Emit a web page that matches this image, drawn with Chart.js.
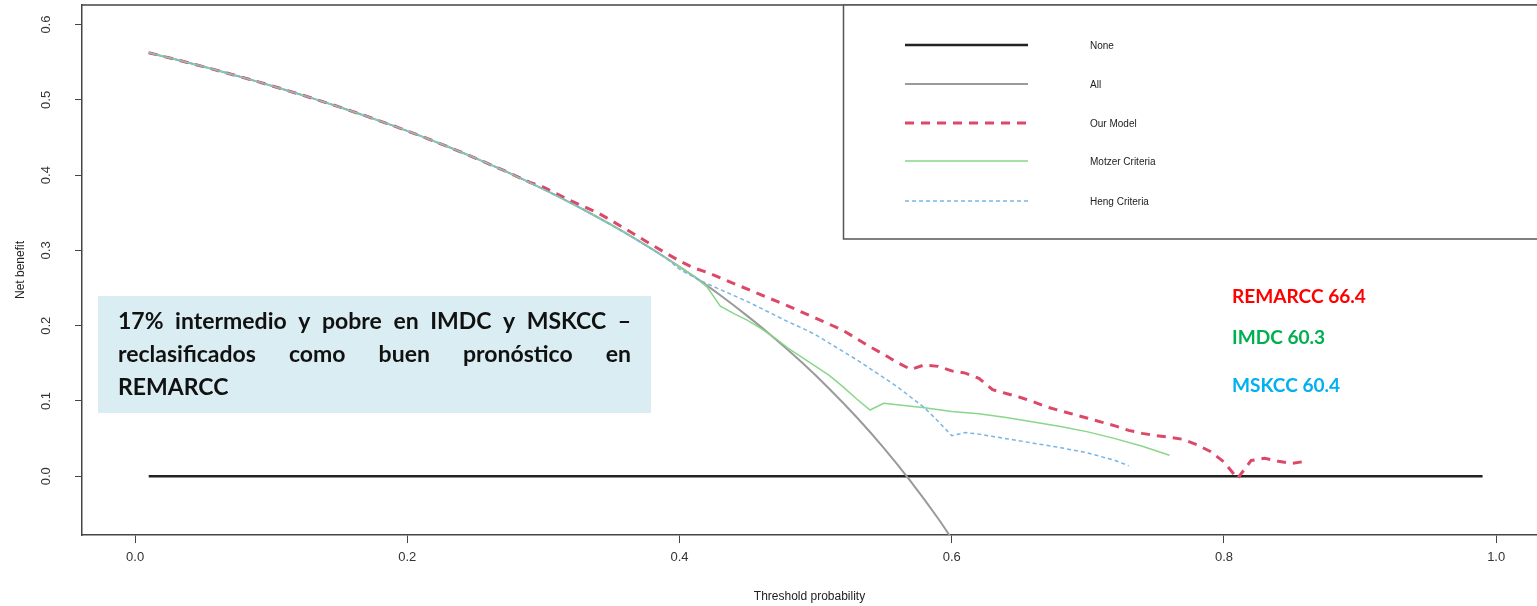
<!DOCTYPE html>
<html><head><meta charset="utf-8">
<script src="https://cdn.jsdelivr.net/npm/chart.js@4.4.1/dist/chart.umd.min.js"></script>
<style>html,body{margin:0;padding:0;background:#fff;overflow:hidden}#wrap{width:1537px;height:606px;position:relative}</style>
</head><body><div id="wrap"><canvas id="c" width="1537" height="606"></canvas></div>
<script>
// ---- data ----
const xTicks = [0, 0.2, 0.4, 0.6, 0.8, 1.0];
const yTicks = [0, 0.1, 0.2, 0.3, 0.4, 0.5, 0.6];
const seriesNames = ["None", "All", "Our Model", "Motzer Criteria", "Heng Criteria"];

const noneX = [0.01, 0.99];
const noneY = [0, 0];

const allX = [0.01,0.03,0.05,0.07,0.09,0.11,0.13,0.15,0.17,0.19,0.21,0.23,0.25,0.27,0.29,0.31,0.33,0.35,0.37,0.39,0.41,0.43,0.45,0.47,0.49,0.51,0.53,0.55,0.57,0.59,0.61];
const allY = [0.5626,0.5536,0.5442,0.5344,0.5242,0.5135,0.5023,0.4906,0.4783,0.4654,0.4519,0.4377,0.4227,0.4069,0.3901,0.3725,0.3537,0.3338,0.3127,0.2902,0.2661,0.2404,0.2127,0.1830,0.1510,0.1163,0.0787,0.0378,-0.0070,-0.0561,-0.1103];

const modelX = [0.01,0.03,0.05,0.07,0.09,0.11,0.13,0.15,0.17,0.19,0.21,0.23,0.25,0.27,0.29,0.30,0.32,0.34,0.36,0.38,0.40,0.41,0.42,0.44,0.46,0.48,0.50,0.52,0.53,0.54,0.55,0.56,0.57,0.58,0.59,0.60,0.61,0.62,0.63,0.64,0.65,0.66,0.67,0.68,0.69,0.70,0.71,0.72,0.73,0.74,0.75,0.76,0.77,0.78,0.79,0.80,0.81,0.82,0.83,0.84,0.85,0.86];
const modelY = [0.5626,0.5536,0.5442,0.5344,0.5242,0.5135,0.5023,0.4906,0.4783,0.4654,0.4519,0.4377,0.4227,0.4069,0.3905,0.384,0.366,0.350,0.329,0.307,0.286,0.277,0.271,0.256,0.241,0.226,0.210,0.194,0.183,0.172,0.162,0.151,0.142,0.148,0.146,0.140,0.137,0.130,0.115,0.110,0.105,0.099,0.092,0.087,0.082,0.077,0.072,0.067,0.061,0.057,0.054,0.052,0.049,0.042,0.033,0.019,-0.003,0.021,0.024,0.020,0.017,0.020];

const motzerX = [0.01,0.03,0.05,0.07,0.09,0.11,0.13,0.15,0.17,0.19,0.21,0.23,0.25,0.27,0.29,0.31,0.33,0.35,0.37,0.39,0.41,0.42,0.43,0.44,0.45,0.46,0.47,0.48,0.49,0.50,0.51,0.52,0.53,0.54,0.55,0.56,0.58,0.60,0.62,0.64,0.66,0.68,0.70,0.72,0.74,0.76];
const motzerY = [0.5626,0.5536,0.5442,0.5344,0.5242,0.5135,0.5023,0.4906,0.4783,0.4654,0.4519,0.4377,0.4227,0.4069,0.3901,0.3725,0.3537,0.3338,0.3127,0.2902,0.2661,0.252,0.226,0.216,0.207,0.196,0.184,0.170,0.158,0.146,0.134,0.119,0.103,0.088,0.097,0.095,0.091,0.086,0.083,0.078,0.072,0.066,0.059,0.050,0.040,0.028];

const hengX = [0.01,0.03,0.05,0.07,0.09,0.11,0.13,0.15,0.17,0.19,0.21,0.23,0.25,0.27,0.29,0.31,0.33,0.35,0.37,0.39,0.40,0.41,0.42,0.43,0.44,0.45,0.46,0.47,0.48,0.49,0.50,0.51,0.52,0.53,0.54,0.55,0.56,0.57,0.58,0.59,0.60,0.61,0.62,0.64,0.66,0.68,0.70,0.72,0.73];
const hengY = [0.5626,0.5536,0.5442,0.5344,0.5242,0.5135,0.5023,0.4906,0.4783,0.4654,0.4519,0.4377,0.4227,0.4069,0.3901,0.3725,0.3537,0.3338,0.3127,0.2902,0.275,0.265,0.256,0.248,0.240,0.232,0.223,0.214,0.205,0.197,0.188,0.177,0.166,0.155,0.143,0.131,0.119,0.105,0.091,0.073,0.054,0.058,0.056,0.050,0.044,0.038,0.031,0.021,0.014];

const boxLines = ["17% intermedio y pobre en IMDC y MSKCC –", "reclasificados como buen pronóstico en", "REMARCC"];
const aucLabels = ["REMARCC 66.4", "IMDC 60.3", "MSKCC 60.4"];

// ---- styles ----
const styles = [
  {color: "#222222", width: 2.5, dash: [], order: 5},
  {color: "#9a9a9a", width: 2, dash: [], order: 4},
  {color: "#dc4868", width: 3, dash: [9, 7], order: 3},
  {color: "#8ad68a", width: 1.5, dash: [], order: 2},
  {color: "#78b6e4", width: 1.5, dash: [4, 3], order: 1}
];
const aucColors = ["#ff0000", "#00b050", "#00b0f0"];

const pairs = (xs, ys) => xs.map((x, i) => ({x: x, y: ys[i]}));
const seriesData = [pairs(noneX, noneY), pairs(allX, allY), pairs(modelX, modelY), pairs(motzerX, motzerY), pairs(hengX, hengY)];

const datasets = seriesNames.map((n, i) => ({
  label: n,
  data: seriesData[i],
  borderColor: styles[i].color,
  borderWidth: styles[i].width,
  borderDash: styles[i].dash,
  order: styles[i].order,
  pointRadius: 0,
  tension: 0,
  cubicInterpolationMode: i === 1 ? 'monotone' : 'default',
  fill: false
}));

const extras = {
  id: 'extras',
  afterDraw(chart) {
    const ctx = chart.ctx;
    const ca = chart.chartArea;
    ctx.save();
    // top frame line
    ctx.strokeStyle = '#444';
    ctx.lineWidth = 1.5;
    ctx.beginPath();
    ctx.moveTo(ca.left, ca.top);
    ctx.lineTo(ca.right + 5, ca.top);
    ctx.stroke();

    // legend box
    const lx = 843, ly = ca.top, lb = 239;
    ctx.fillStyle = '#fff';
    ctx.fillRect(lx, ly, ca.right - lx + 10, lb - ly);
    ctx.strokeStyle = '#555';
    ctx.lineWidth = 1.5;
    ctx.strokeRect(lx + 0.5, ly, ca.right - lx + 10, lb - ly);
    const rows = [45, 84, 123, 161, 201];
    ctx.font = '10px "Liberation Sans", Arial, sans-serif';
    ctx.textBaseline = 'middle';
    chart.data.datasets.forEach((ds, i) => {
      ctx.strokeStyle = ds.borderColor;
      ctx.lineWidth = ds.borderWidth;
      ctx.setLineDash(ds.borderDash);
      ctx.beginPath();
      ctx.moveTo(905, rows[i]);
      ctx.lineTo(1028, rows[i]);
      ctx.stroke();
      ctx.setLineDash([]);
      ctx.fillStyle = '#222';
      ctx.fillText(ds.label, 1090, rows[i] + 1);
    });

    // annotation box
    const bx = 98, by = 296, bw = 553, bh = 117;
    ctx.fillStyle = '#daedf3';
    ctx.fillRect(bx, by, bw, bh);
    const tx = 118, tw = 513;
    let fs = 21;
    ctx.font = 'bold ' + fs + 'px Lato, "Open Sans", sans-serif';
    const w0 = ctx.measureText(boxLines[0]).width;
    fs = Math.min(23, fs * tw / w0);
    ctx.font = 'bold ' + fs.toFixed(2) + 'px Lato, "Open Sans", sans-serif';
    ctx.fillStyle = '#111';
    ctx.textBaseline = 'alphabetic';
    const baselines = [329, 362, 395];
    boxLines.forEach((line, li) => {
      const words = line.split(' ');
      if (li < boxLines.length - 1 && words.length > 1) {
        const wsum = words.reduce((s, w) => s + ctx.measureText(w).width, 0);
        const gap = (tw - wsum) / (words.length - 1);
        let x = tx;
        words.forEach(w => { ctx.fillText(w, x, baselines[li]); x += ctx.measureText(w).width + gap; });
      } else {
        ctx.fillText(line, tx, baselines[li]);
      }
    });

    // AUC labels
    let fs2 = 18;
    ctx.font = 'bold ' + fs2 + 'px Lato, "Open Sans", sans-serif';
    fs2 = fs2 * 134 / ctx.measureText(aucLabels[0]).width;
    ctx.font = 'bold ' + fs2.toFixed(2) + 'px Lato, "Open Sans", sans-serif';
    ctx.textBaseline = 'middle';
    const ay = [297, 338, 386];
    aucLabels.forEach((t, i) => { ctx.fillStyle = aucColors[i]; ctx.fillText(t, 1232, ay[i]); });
    ctx.restore();
  }
};

const tickFont = {family: '"Liberation Sans", Arial, sans-serif', size: 13};
new Chart(document.getElementById('c'), {
  type: 'line',
  data: {datasets: datasets},
  options: {
    responsive: false,
    animation: false,
    devicePixelRatio: 1,
    layout: {padding: {top: 5, right: 0, left: 0, bottom: 0}},
    plugins: {legend: {display: false}, tooltip: {enabled: false}},
    scales: {
      x: {
        type: 'linear', min: -0.039, max: 1.030,
        afterBuildTicks: s => { s.ticks = xTicks.map(v => ({value: v})); },
        afterFit: s => { s.height = 71; s.paddingLeft = 0; s.paddingRight = 0; },
        ticks: {color: '#333', font: tickFont, padding: 7, maxRotation: 0, minRotation: 0, callback: v => v.toFixed(1)},
        grid: {display: true, drawOnChartArea: false, drawTicks: true, tickLength: 8, color: '#444', lineWidth: 1},
        border: {display: true, color: '#444', width: 1.5},
        title: {display: true, text: 'Threshold probability', color: '#222', font: {family: '"Liberation Sans", Arial, sans-serif', size: 12}, padding: {top: 0, bottom: 2}}
      },
      y: {
        type: 'linear', min: -0.078, max: 0.626,
        afterBuildTicks: s => { s.ticks = yTicks.map(v => ({value: v})); },
        afterFit: s => { s.width = 82; s.paddingTop = 0; s.paddingBottom = 0; },
        ticks: {color: '#333', font: tickFont, padding: 20, minRotation: 90, maxRotation: 90, crossAlign: 'center', callback: v => v.toFixed(1)},
        grid: {display: true, drawOnChartArea: false, drawTicks: true, tickLength: 7, color: '#444', lineWidth: 1},
        border: {display: true, color: '#444', width: 1.5},
        title: {display: true, text: 'Net benefit', color: '#222', font: {family: '"Liberation Sans", Arial, sans-serif', size: 12}, padding: {top: 13, bottom: 0}}
      }
    }
  },
  plugins: [extras]
});
</script>
</body></html>
